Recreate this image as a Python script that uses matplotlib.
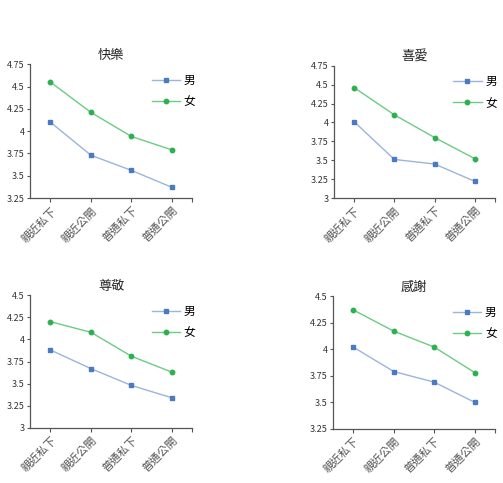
import matplotlib
matplotlib.use('Agg')
import matplotlib.pyplot as plt

plt.rcParams['font.family'] = ['Noto Sans CJK TC', 'DejaVu Sans']

categories = ['親近私下', '親近公開', '普通私下', '普通公開']
titles = ['快樂', '喜愛', '尊敬', '感謝']

male = [
    [4.10, 3.73, 3.56, 3.37],
    [4.01, 3.51, 3.45, 3.22],
    [3.88, 3.67, 3.48, 3.34],
    [4.02, 3.79, 3.69, 3.50],
]
female = [
    [4.55, 4.21, 3.94, 3.79],
    [4.46, 4.10, 3.80, 3.52],
    [4.20, 4.08, 3.81, 3.63],
    [4.37, 4.17, 4.02, 3.78],
]

ylims = [(3.25, 4.75), (3.0, 4.75), (3.0, 4.5), (3.25, 4.5)]
yticks = [
    [3.25, 3.5, 3.75, 4, 4.25, 4.5, 4.75],
    [3, 3.25, 3.5, 3.75, 4, 4.25, 4.5, 4.75],
    [3, 3.25, 3.5, 3.75, 4, 4.25, 4.5],
    [3.25, 3.5, 3.75, 4, 4.25, 4.5],
]

positions = [
    [0.060, 0.590, 0.322, 0.277],
    [0.664, 0.590, 0.320, 0.274],
    [0.060, 0.114, 0.322, 0.275],
    [0.662, 0.112, 0.322, 0.275],
]
legend_x = [0.70, 0.69, 0.70, 0.69]

fig = plt.figure(figsize=(5.03, 4.83), dpi=100)

for i in range(4):
    ax = fig.add_axes(positions[i])
    x = range(len(categories))
    ax.plot(x, male[i], color='#9DB3DB', lw=1, marker='s', markersize=3.2,
            markerfacecolor='#4A7BC0', markeredgecolor='#4A7BC0', label='男')
    ax.plot(x, female[i], color='#6CCB84', lw=1, marker='o', markersize=3.2,
            markerfacecolor='#2DB04F', markeredgecolor='#2DB04F', label='女')
    ax.set_xlim(-0.5, 3.5)
    ax.set_ylim(*ylims[i])
    ax.set_yticks(yticks[i])
    ax.set_yticklabels([('%g' % v) for v in yticks[i]], fontsize=6.5, color='#333333')
    ax.set_xticks(list(x))
    ax.set_xticks([3.5], minor=True)
    ax.set_xticklabels(categories, rotation=45, ha='right', rotation_mode='anchor',
                       fontsize=8, color='#555555')
    ax.tick_params(axis='both', which='both', direction='out', length=3, width=0.8,
                   color='#555555', pad=2)
    ax.tick_params(axis='y', length=2)
    for s in ['top', 'right']:
        ax.spines[s].set_visible(False)
    for s in ['left', 'bottom']:
        ax.spines[s].set_color('#555555')
        ax.spines[s].set_linewidth(0.9)
    ax.set_title(titles[i], fontsize=9.5, pad=4, color='#222222')
    ax.legend(loc='upper left', bbox_to_anchor=(legend_x[i], 0.99), frameon=False,
              fontsize=8.5, handlelength=2.4, handletextpad=0.3, labelspacing=0.7,
              borderaxespad=0.3)

fig.savefig('out.png', dpi=100, facecolor='white')
